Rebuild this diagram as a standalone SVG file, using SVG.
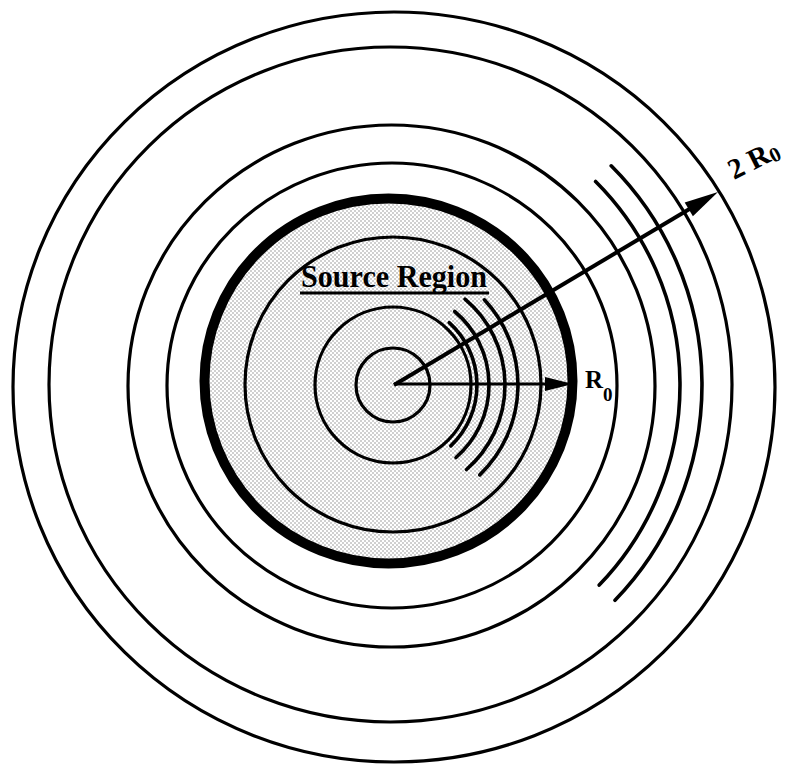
<svg xmlns="http://www.w3.org/2000/svg" width="792" height="767" viewBox="0 0 792 767">
  <defs>
    <pattern id="stipple" width="4" height="4" patternUnits="userSpaceOnUse">
      <rect width="4" height="4" fill="#ffffff"/>
      <circle cx="1" cy="1" r="0.75" fill="#8a8a8a"/>
      <circle cx="3" cy="3" r="0.75" fill="#8a8a8a"/>
    </pattern>
  </defs>
  <style>
    .ring { fill: none; stroke: #000; stroke-width: 3.2; }
    .arc { fill: none; stroke: #000; stroke-width: 3.6; stroke-linecap: round; }
    .shaft { stroke: #000; stroke-linecap: butt; }
    .head { fill: #000; }
    .lbl { font-family: "Liberation Serif", "Times New Roman", serif; font-weight: bold; fill: #000; }
  </style>
  <rect width="792" height="767" fill="#ffffff"/>

  <g id="source-region">
    <ellipse cx="388.5" cy="381" rx="184" ry="182.5" fill="url(#stipple)" stroke="#000" stroke-width="10"/>
  </g>

  <g id="inner-rings">
    <ellipse class="ring" cx="393" cy="384.5" rx="148" ry="147.5"/>
    <circle class="ring" cx="393" cy="385" r="78"/>
    <circle class="ring" cx="393" cy="385" r="37"/>
  </g>

  <g id="inner-arcs">
    <path class="arc" d="M449.2,322.6 A84,84 0 0 1 450.8,445.9"/>
    <path class="arc" d="M454.7,311.5 A96,96 0 0 1 456.0,457.5"/>
    <path class="arc" d="M465.0,299.2 A112,112 0 0 1 466.5,469.5"/>
    <path class="arc" d="M484.4,299.8 A125,125 0 0 1 479.8,474.9"/>
  </g>

  <g id="outer-rings">
    <ellipse class="ring" cx="392" cy="385.5" rx="225" ry="222.5"/>
    <ellipse class="ring" cx="391.5" cy="386" rx="263.5" ry="261"/>
    <ellipse class="ring" cx="390.5" cy="384.5" rx="341.5" ry="337.5"/>
    <ellipse class="ring" cx="394" cy="387" rx="381" ry="375"/>
  </g>

  <g id="outer-arcs">
    <path class="arc" d="M595.6,181.4 A288,288 0 0 1 599.2,585.1"/>
    <path class="arc" d="M611.2,165.8 A310,310 0 0 1 615.0,600.3"/>
  </g>

  <g id="connectors">
    <line class="shaft" x1="394" y1="384" x2="548" y2="384" stroke-width="3"/>
    <polygon class="head" points="573,384 545,377 545,391"/>
    <line class="shaft" x1="394" y1="385" x2="692" y2="207.5" stroke-width="4"/>
    <polygon class="head" points="718,192 692.9,216.3 684.7,202.5"/>
  </g>

  <g id="label-source">
    <text class="lbl" x="301" y="287" font-size="31" textLength="186" lengthAdjust="spacingAndGlyphs">Source Region</text>
    <line x1="300" y1="293" x2="489" y2="293" stroke="#000" stroke-width="3"/>
  </g>

  <g id="label-r0">
    <text class="lbl" x="585" y="388" font-size="25">R<tspan font-size="19" dy="13">0</tspan></text>
  </g>

  <g id="label-2r0">
    <text class="lbl" x="734" y="180" font-size="29" transform="rotate(-27 734 180)">2 R<tspan font-size="21" dy="3">0</tspan></text>
  </g>
</svg>
